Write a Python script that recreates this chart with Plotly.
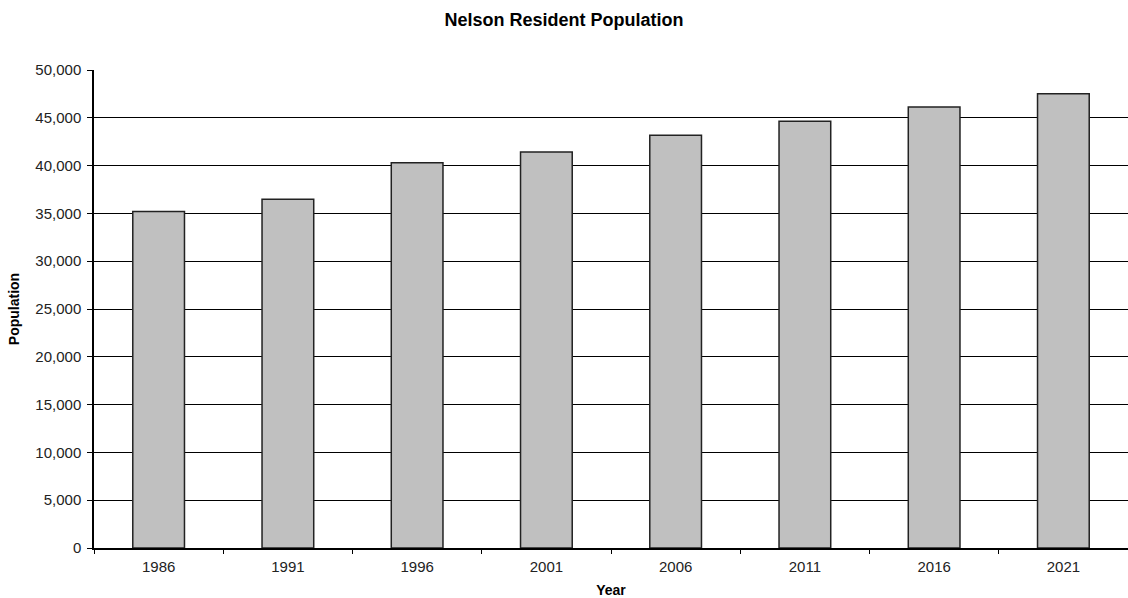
import plotly.graph_objects as go

years = ["1986", "1991", "1996", "2001", "2006", "2011", "2016", "2021"]
population = [35200, 36480, 40310, 41430, 43170, 44640, 46130, 47520]
y_ticks = [0, 5000, 10000, 15000, 20000, 25000, 30000, 35000, 40000, 45000, 50000]

FONT = "Liberation Sans, Arial, sans-serif"

fig = go.Figure(
    go.Bar(
        x=years,
        y=population,
        marker=dict(color="#C0C0C0", line=dict(color="#222222", width=1.5)),
    )
)

fig.update_layout(
    width=1128,
    height=598,
    margin=dict(l=94, r=0, t=70, b=50),
    paper_bgcolor="white",
    plot_bgcolor="white",
    bargap=0.6,
    showlegend=False,
    font=dict(family=FONT, size=15, color="#222222"),
    title=dict(
        text="<b>Nelson Resident Population</b>",
        x=0.5,
        xref="container",
        xanchor="center",
        y=1 - 20 / 598,
        yanchor="middle",
        font=dict(family=FONT, size=18, color="black"),
    ),
)

fig.update_xaxes(
    type="category",
    showline=True,
    linecolor="black",
    linewidth=1.5,
    ticks="outside",
    tickson="boundaries",
    ticklen=4,
    tickcolor="black",
    showgrid=False,
    ticklabelstandoff=4,
    title=dict(text="<b>Year</b>", font=dict(family=FONT, size=14, color="black"), standoff=11),
)

fig.update_yaxes(
    range=[0, 50000],
    tickvals=y_ticks,
    tickformat=",d",
    showline=True,
    linecolor="black",
    linewidth=1.5,
    ticks="outside",
    ticklen=5,
    tickcolor="black",
    showgrid=True,
    gridcolor="black",
    gridwidth=1,
    zeroline=False,
    ticklabelstandoff=3,
    title=dict(text="<b>Population</b>", font=dict(family=FONT, size=14, color="black"), standoff=12),
)

fig.write_html("out.html")
